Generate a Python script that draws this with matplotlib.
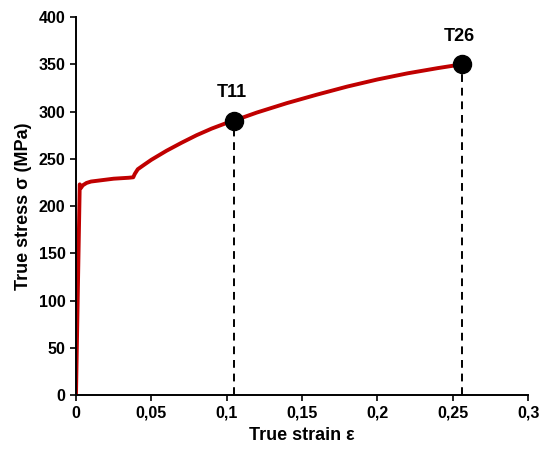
import matplotlib
matplotlib.use("Agg")
import matplotlib.pyplot as plt

plt.rcParams['font.family'] = ['Liberation Sans', 'DejaVu Sans']
plt.rcParams['font.weight'] = 'bold'

# stress-strain curve
strain = [0.0, 0.0025, 0.0032, 0.0045, 0.007, 0.010, 0.015, 0.020, 0.025, 0.030,
          0.035, 0.038, 0.039, 0.041, 0.045, 0.050, 0.060, 0.070, 0.080, 0.090,
          0.100, 0.105, 0.120, 0.140, 0.160, 0.180, 0.200, 0.220, 0.240, 0.256]
stress = [0.0, 223.0, 219.0, 222.0, 224.5, 226.0, 227.0, 228.0, 229.0, 229.5,
          230.0, 230.5, 234.0, 239.0, 243.5, 249.0, 258.5, 267.0, 275.0, 282.0,
          288.0, 290.5, 299.0, 309.0, 318.0, 326.5, 334.0, 340.5, 346.0, 350.0]

pt_names = ['T11', 'T26']
pt_strain = [0.105, 0.256]
pt_stress = [290.5, 350.0]

x_ticks = [0, 0.05, 0.1, 0.15, 0.2, 0.25, 0.3]
x_labels = ['0', '0,05', '0,1', '0,15', '0,2', '0,25', '0,3']

fig = plt.figure(figsize=(5.4, 4.5), dpi=100)
ax = fig.add_axes([0.1407, 0.122, 0.8373, 0.840])

ax.plot(strain, stress, color='#C00000', lw=2.8, solid_capstyle='butt', zorder=2)
for name, sx, sy in zip(pt_names, pt_strain, pt_stress):
    ax.plot([sx, sx], [0, sy], color='black', lw=1.4, ls=(0, (4, 3)), zorder=1)
    ax.plot(sx, sy, 'o', color='black', ms=13, zorder=3)
    ax.annotate(name, (sx, sy), xytext=(-2, 14), textcoords='offset points',
                ha='center', va='bottom', fontsize=13, fontweight='bold')

ax.set_xlim(0, 0.3)
ax.set_ylim(0, 400)
ax.set_xticks(x_ticks)
ax.set_xticklabels(x_labels)
ax.set_yticks(range(0, 401, 50))
ax.tick_params(direction='out', length=4, width=1.2, labelsize=11.5)
for s in ['top', 'right']:
    ax.spines[s].set_visible(False)
for s in ['left', 'bottom']:
    ax.spines[s].set_linewidth(1.4)

ax.set_xlabel('True strain ε', fontsize=13, fontweight='bold', labelpad=5)
ax.set_ylabel('True stress σ (MPa)', fontsize=13, fontweight='bold', labelpad=5)

fig.savefig('out.png', dpi=100)
